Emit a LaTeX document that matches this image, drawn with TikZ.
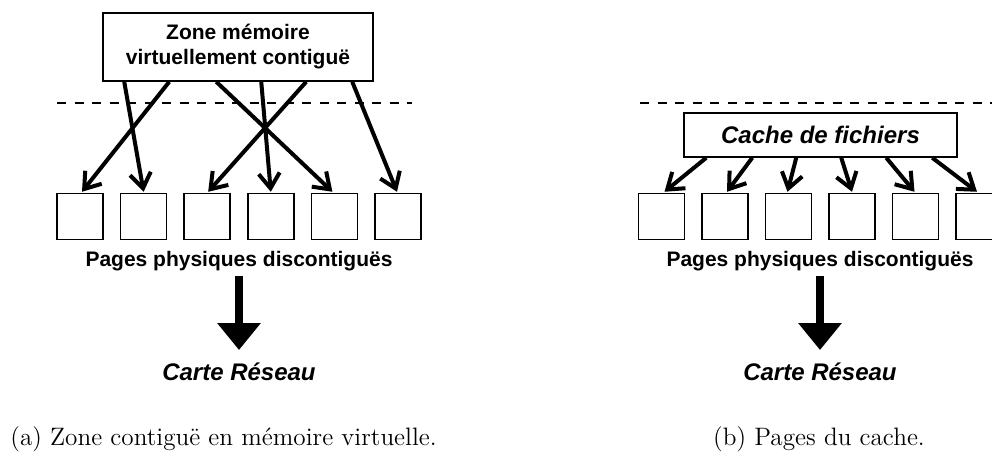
\documentclass[tikz,border=0pt]{standalone}
\usepackage{fontspec}
\newfontfamily\hv{Liberation Sans}
\usetikzlibrary{arrows.meta,calc}
\begin{document}
\begin{tikzpicture}[x=0.5pt,y=-0.5pt,
  pagebox/.style={draw,line width=0.75pt,minimum size=23pt,inner sep=0pt},
  labbox/.style={draw,line width=0.75pt,inner sep=0pt,align=center},
  thinarrow/.style={line width=2pt,-{Straight Barb[length=7.5pt,width=10.5pt]}},
  bigarrow/.style={line width=4pt,-{Triangle[length=13.5pt,width=21pt]}},
  sepline/.style={line width=0.75pt,dash pattern=on 4.5pt off 4.25pt},
  lab/.style={font=\hv\bfseries\fontsize{10.5}{12.5}\selectfont,inner sep=0pt},
  ilab/.style={font=\hv\bfseries\itshape\fontsize{12}{14}\selectfont,inner sep=0pt},
  captxt/.style={font=\fontsize{12.6}{15}\selectfont,inner sep=0pt}]
\useasboundingbox (0,0) rectangle (992,452);
\clip (0,0) rectangle (992,452);
% ---------- left panel ----------
\node[labbox,minimum width=135pt,minimum height=34pt,lab] (zone) at (238,47)
  {Zone mémoire\\virtuellement contiguë};
\coordinate (la) at (57,103);
\coordinate (lb) at (412,103);
\draw[sepline] (la) -- (lb);
\foreach \i in {1,...,6}{
  \node[pagebox] (p\i) at ({80+63.6*(\i-1)},216.5) {};
}
\draw[thinarrow] ($(zone.south west)+(67,0)$) -- ($(p1.north)+(2,-1)$);
\draw[thinarrow] ($(zone.south west)+(22,0)$) -- ($(p2.north)+(0,-1)$);
\draw[thinarrow] ($(zone.south west)+(204,0)$) -- ($(p3.north)+(1,-1)$);
\draw[thinarrow] ($(zone.south west)+(159,0)$) -- ($(p4.north)+(0,-1)$);
\draw[thinarrow] ($(zone.south west)+(114,0)$) -- ($(p5.north)+(-2,-1)$);
\draw[thinarrow] ($(zone.south west)+(250,0)$) -- ($(p6.north)+(-1,-1)$);
\node[lab] (pagesA) at (239,261) {Pages physiques discontiguës};
\node[ilab] (carteA) at (239,372) {Carte Réseau};
\draw[bigarrow] ($(pagesA.center)+(0,15)$) -- ($(carteA.center)+(0,-22)$);
\node[captxt,anchor=base west] (capA) at (10,445) {(a) Zone contiguë en mémoire virtuelle.};
% ---------- right panel ----------
\coordinate (ra) at (640,103);
\coordinate (rb) at (1000,103);
\draw[sepline] (ra) -- (rb);
\node[labbox,minimum width=136.5pt,minimum height=22pt,ilab] (cache) at (820.5,135)
  {Cache de fichiers};
\foreach \i in {1,...,6}{
  \node[pagebox] (q\i) at ({661.5+63.5*(\i-1)},216.5) {};
}
\draw[thinarrow] ($(cache.south west)+(23,0)$) -- ($(q1.north)+(3,-1)$);
\draw[thinarrow] ($(cache.south west)+(69,0)$) -- ($(q2.north)+(2,-1)$);
\draw[thinarrow] ($(cache.south west)+(113,0)$) -- ($(q3.north)+(-1,-1)$);
\draw[thinarrow] ($(cache.south west)+(158,0)$) -- ($(q4.north)+(0,-1)$);
\draw[thinarrow] ($(cache.south west)+(203,0)$) -- ($(q5.north)+(-1,-1)$);
\draw[thinarrow] ($(cache.south west)+(249,0)$) -- ($(q6.north)+(-2,-1)$);
\node[lab] (pagesB) at (820,261) {Pages physiques discontiguës};
\node[ilab] (carteB) at (820,372) {Carte Réseau};
\draw[bigarrow] ($(pagesB.center)+(0,15)$) -- ($(carteB.center)+(0,-22)$);
\node[captxt,anchor=base] (capB) at (819,445) {(b) Pages du cache.};
\end{tikzpicture}
\end{document}
